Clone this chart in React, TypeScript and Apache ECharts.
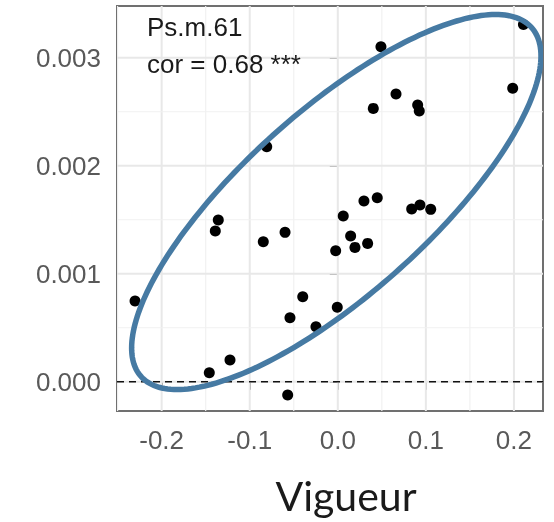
import React, { useEffect, useRef } from "react";
import * as echarts from "echarts";

// ---- data ----
const xValues = [
  -0.2302, -0.1459, -0.1224, -0.1357, -0.1391, -0.0846, -0.0807, -0.0599,
  -0.0569, -0.0543, -0.0398, -0.0248, -0.0006, -0.0024, 0.0062, 0.0146,
  0.0195, 0.0339, 0.0297, 0.0448, 0.0839, 0.0933, 0.1055, 0.0403, 0.0661,
  0.0907, 0.0925, 0.049, 0.1986, 0.2108,
];
const yValues = [
  0.000747, 0.0000833, 0.000201, 0.001497, 0.001395, 0.001296, 0.002176,
  0.001383, -0.000123, 0.000593, 0.000787, 0.000509, 0.000689, 0.001213,
  0.001534, 0.001349, 0.001244, 0.001281, 0.001673, 0.001704, 0.001599,
  0.001636, 0.001596, 0.002531, 0.002664, 0.002562, 0.002506, 0.003102,
  0.002717, 0.003307,
];
const xTicks = [-0.2, -0.1, 0.0, 0.1, 0.2];
const yTicks = [0.0, 0.001, 0.002, 0.003];
const xMinorGrid = [-0.25, -0.15, -0.05, 0.05, 0.15];
const yMinorGrid = [0.0005, 0.0015, 0.0025];
const refLineY = [0];
const xRange = [-0.2507, 0.233];
const yRange = [-0.000271, 0.003479];
// ellipse: center, half-extent on x, half-extent on y, phase shift
const ellipseCenter = [-0.0017, 0.001664];
const ellipseExtent = [0.2324, 0.001736];
const ellipsePhase = 0.679;
const panelLabel = "Ps.m.61";
const corLabel = "cor = 0.68 ***";
const xTitle = "Vigueur";

export default function App() {
  const ref = useRef<HTMLDivElement>(null);
  useEffect(() => {
    if (!ref.current) return;
    const chart = echarts.init(ref.current, undefined, { renderer: "svg" });

    const gridData: number[][] = [];
    xTicks.forEach((v) => gridData.push([v, 0.001, 0]));
    xMinorGrid.forEach((v) => gridData.push([v, 0.001, 1]));
    yTicks.forEach((v) => gridData.push([0, v, 2]));
    yMinorGrid.forEach((v) => gridData.push([0, v, 3]));
    refLineY.forEach((v) => gridData.push([0, v, 4]));

    const labelFont = "'Liberation Sans', Arial, sans-serif";

    chart.setOption({
      animation: false,
      grid: {
        left: 117,
        top: 6,
        right: 11,
        bottom: 111,
        show: true,
        borderColor: "#707070",
        borderWidth: 2,
        backgroundColor: "#fff",
        z: 0,
      },
      xAxis: {
        type: "value",
        min: xRange[0],
        max: xRange[1],
        splitNumber: 5,
        axisLine: { show: false },
        splitLine: { show: false },
        axisTick: {
          show: true,
          length: 8,
          customValues: xTicks,
          lineStyle: { color: "#555", width: 2 },
        },
        axisLabel: {
          customValues: xTicks,
          formatter: (v: number) => v.toFixed(1),
          color: "#595959",
          fontSize: 26,
          fontFamily: labelFont,
          margin: 16,
        },
      },
      yAxis: {
        type: "value",
        min: yRange[0],
        max: yRange[1],
        splitNumber: 4,
        axisLine: { show: false },
        splitLine: { show: false },
        axisTick: {
          show: true,
          length: 8,
          customValues: yTicks,
          lineStyle: { color: "#555", width: 2 },
        },
        axisLabel: {
          customValues: yTicks,
          formatter: (v: number) => v.toFixed(3),
          color: "#595959",
          fontSize: 26,
          fontFamily: labelFont,
          margin: 16,
          padding: [6, 0, 0, 0],
        },
      },
      series: [
        {
          type: "custom",
          z: 1,
          silent: true,
          data: gridData,
          encode: { x: 0, y: 1 },
          renderItem: (params: any, api: any) => {
            const cs = params.coordSys;
            const kind = api.value(2);
            const p = api.coord([api.value(0), api.value(1)]);
            if (kind === 0 || kind === 1) {
              return {
                type: "line",
                shape: { x1: p[0], y1: cs.y, x2: p[0], y2: cs.y + cs.height },
                style: {
                  stroke: kind === 0 ? "#e8e8e8" : "#f1f1f1",
                  lineWidth: kind === 0 ? 2 : 1.2,
                },
              };
            }
            if (kind === 4) {
              return {
                type: "line",
                z2: 5,
                shape: { x1: cs.x, y1: p[1], x2: cs.x + cs.width, y2: p[1] },
                style: { stroke: "#111", lineWidth: 1.6, lineDash: [7, 5] },
              };
            }
            return {
              type: "line",
              shape: { x1: cs.x, y1: p[1], x2: cs.x + cs.width, y2: p[1] },
              style: {
                stroke: kind === 2 ? "#e8e8e8" : "#f1f1f1",
                lineWidth: kind === 2 ? 2 : 1.2,
              },
            };
          },
        },
        {
          type: "scatter",
          z: 3,
          symbolSize: 11,
          itemStyle: { color: "#000", opacity: 1 },
          data: xValues.map((x, i) => [x, yValues[i]]),
        },
        {
          type: "custom",
          z: 4,
          silent: true,
          data: [[ellipseCenter[0], ellipseCenter[1]]],
          encode: { x: 0, y: 1 },
          renderItem: (params: any, api: any) => {
            const cs = params.coordSys;
            const cx = api.value(0);
            const cy = api.value(1);
            const pts: number[][] = [];
            const n = 240;
            for (let i = 0; i < n; i++) {
              const t = (i / n) * Math.PI * 2;
              pts.push(
                api.coord([
                  cx + ellipseExtent[0] * Math.cos(t),
                  cy + ellipseExtent[1] * Math.cos(t - ellipsePhase),
                ])
              );
            }
            return {
              type: "group",
              clipPath: {
                type: "rect",
                shape: { x: cs.x, y: cs.y, width: cs.width, height: cs.height },
              },
              children: [
                {
                  type: "polygon",
                  shape: { points: pts },
                  style: { fill: "none", stroke: "#467aa3", lineWidth: 5.5 },
                },
              ],
            };
          },
        },
      ],
      graphic: [
        {
          type: "text",
          left: 147,
          top: 14,
          z: 10,
          style: {
            text: panelLabel,
            fontSize: 26,
            fontFamily: labelFont,
            fill: "#1a1a1a",
          },
        },
        {
          type: "text",
          left: 147,
          top: 51,
          z: 10,
          style: {
            text: corLabel,
            fontSize: 26,
            fontFamily: labelFont,
            fill: "#1a1a1a",
          },
        },
        {
          type: "text",
          x: 346,
          y: 495,
          z: 10,
          style: {
            text: xTitle,
            fontSize: 41,
            fontFamily: "Lato, 'Open Sans', sans-serif",
            fill: "#1a1a1a",
            align: "center",
            verticalAlign: "middle",
          },
        },
      ],
    });
    return () => chart.dispose();
  }, []);
  return (
    <div
      ref={ref}
      style={{ position: "fixed", left: 0, top: 0, width: 554, height: 522 }}
    />
  );
}
